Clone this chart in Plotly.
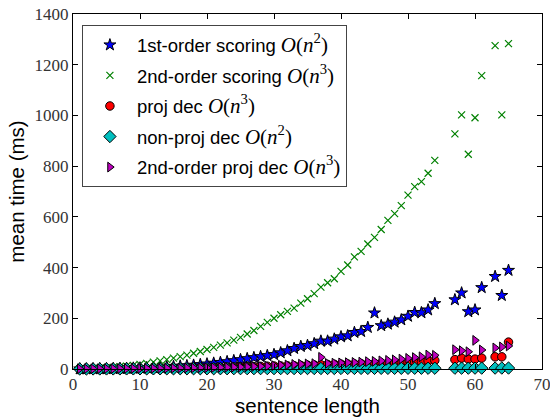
import plotly.graph_objects as go

x_vals = list(range(1, 55)) + [57, 58, 59, 60, 61, 63, 64, 65]

first_order = [0.3, 0.5, 0.8, 1, 1.3, 1.7, 2.2, 2.8, 3.4, 4,
               5, 6, 7, 8.5, 10, 11.5, 13, 15, 17.5, 20,
               23, 26, 29, 33, 37, 41, 45, 49, 53, 57,
               64, 72, 81, 89, 93, 100, 110, 110, 118, 127,
               131, 144, 148, 164, 221, 171, 177, 185, 194, 208,
               223, 222, 233, 258,
               273, 300, 226, 233, 321, 365, 290, 389]

second_order = [1, 1.5, 2, 3, 4.5, 6.5, 9, 11.5, 14.5, 18,
                22, 27, 32, 37, 43, 49, 55, 62, 69, 77,
                85, 94, 103, 114, 125, 138, 152, 168, 184, 200,
                214, 227, 240, 260, 277, 297, 323, 340, 356, 385,
                410, 442, 464, 493, 519, 550, 586, 613, 644, 686,
                719, 739, 772, 823,
                927, 1002, 847, 991, 1157, 1275, 1002, 1283]

proj_dec = [0.2, 0.3, 0.4, 0.5, 0.6, 0.8, 1, 1.2, 1.4, 1.7,
            2, 2.3, 2.6, 3, 3.4, 3.8, 4.2, 4.7, 5.2, 5.7,
            6.2, 6.8, 7.4, 8, 8.6, 9.2, 9.8, 10.4, 11, 11.6,
            12, 12.5, 13, 14, 15, 16, 17, 18, 18.5, 19,
            19.5, 20, 21, 21, 22, 23, 24, 24, 25, 26,
            27, 29, 32, 34,
            37, 43, 39, 39, 43, 48, 48, 106]

nonproj_dec = [0.1, 0.1, 0.2, 0.2, 0.3, 0.3, 0.4, 0.5, 0.5, 0.6,
               0.6, 0.7, 0.7, 0.8, 0.8, 0.9, 0.9, 1.0, 1.0, 1.1,
               1.1, 1.2, 1.2, 1.3, 1.3, 1.4, 1.5, 1.5, 1.6, 1.6,
               1.7, 1.7, 1.8, 1.9, 1.9, 2.0, 2.0, 2.1, 2.1, 2.2,
               2.3, 2.3, 2.4, 2.4, 2.5, 2.6, 2.6, 2.7, 2.7, 2.8,
               2.9, 2.9, 3.0, 3.1,
               3.2, 3.3, 3.3, 3.4, 3.5, 3.6, 3.7, 3.8]

second_proj_dec = [0.8, 0.9, 1, 1.1, 1.2, 1.3, 1.5, 1.7, 1.9, 2.1,
                   2.3, 2.5, 2.7, 3, 3.3, 3.6, 3.9, 4.2, 4.6, 5,
                   5.5, 6, 6.5, 7, 7.5, 8.5, 9.5, 10.5, 11.5, 13,
                   15, 16, 18, 19, 20, 21, 46, 22, 23, 24,
                   25, 26, 27, 29, 30, 32, 34, 36, 39, 42,
                   45, 48, 55, 54,
                   76, 72, 68, 113, 75, 83, 87, 91]

x_ticks = [0, 10, 20, 30, 40, 50, 60, 70]
y_ticks = [0, 200, 400, 600, 800, 1000, 1200, 1400]

SERIF = "Liberation Serif"
SANS = "Liberation Sans"


def math(order):
    return ('<span style="font-family:\'%s\';font-size:21px"><i>O</i>(<i>n</i><sup>%d</sup>)</span>'
            % (SERIF, order))


series = [
    ("1st-order scoring " + math(2), first_order,
     dict(symbol="star", size=9, color="#0000ff", line=dict(color="black", width=1))),
    ("2nd-order scoring " + math(3), second_order,
     dict(symbol="x-thin", size=7, color="#008000", line=dict(color="#008000", width=1.2))),
    ("proj dec " + math(3), proj_dec,
     dict(symbol="circle", size=8.5, color="#ff0000", line=dict(color="black", width=1))),
    ("non-proj dec " + math(2), nonproj_dec,
     dict(symbol="diamond", size=9.5, color="#00bfbf", line=dict(color="black", width=1))),
    ("2nd-order proj dec " + math(3), second_proj_dec,
     dict(symbol="triangle-right", size=8.5, color="#bf00bf", line=dict(color="black", width=1))),
]

fig = go.Figure()
for i, (name, vals, mk) in enumerate(series):
    fig.add_trace(go.Scatter(
        x=x_vals, y=vals, mode="markers", name=name, marker=mk,
        cliponaxis=False, legendgroup="g%d" % i,
    ))

axis_common = dict(
    showgrid=False, zeroline=False, showline=True, linecolor="black", linewidth=1,
    mirror="ticks", ticks="inside", ticklen=5, tickcolor="black", tickwidth=1,
    tickfont=dict(family=SERIF, size=17, color="#333333"),
    ticklabeloverflow="allow",
)

fig.update_layout(
    width=550, height=419,
    margin=dict(l=73, r=8, t=14, b=50, autoexpand=False),
    paper_bgcolor="white", plot_bgcolor="white",
    showlegend=True,
    legend=dict(
        x=0.019, y=0.968, xanchor="left", yanchor="top",
        bgcolor="white", bordercolor="#444444", borderwidth=1,
        font=dict(family=SANS, size=18.5, color="black"),
        tracegroupgap=3.5, itemwidth=44,
    ),
    xaxis=dict(range=[0, 70], tickvals=x_ticks, ticktext=[str(v) for v in x_ticks],
               title=dict(text="sentence length", font=dict(family=SANS, size=20.5, color="black"),
                          standoff=0),
               **axis_common),
    yaxis=dict(range=[0, 1400], tickvals=y_ticks, ticktext=[str(v) for v in y_ticks],
               title=dict(text="mean time (ms)", font=dict(family=SANS, size=20.5, color="black"),
                          standoff=4),
               **axis_common),
)

fig.write_html("out.html", config={"displayModeBar": False},
               post_script="document.body.style.margin='0';")
